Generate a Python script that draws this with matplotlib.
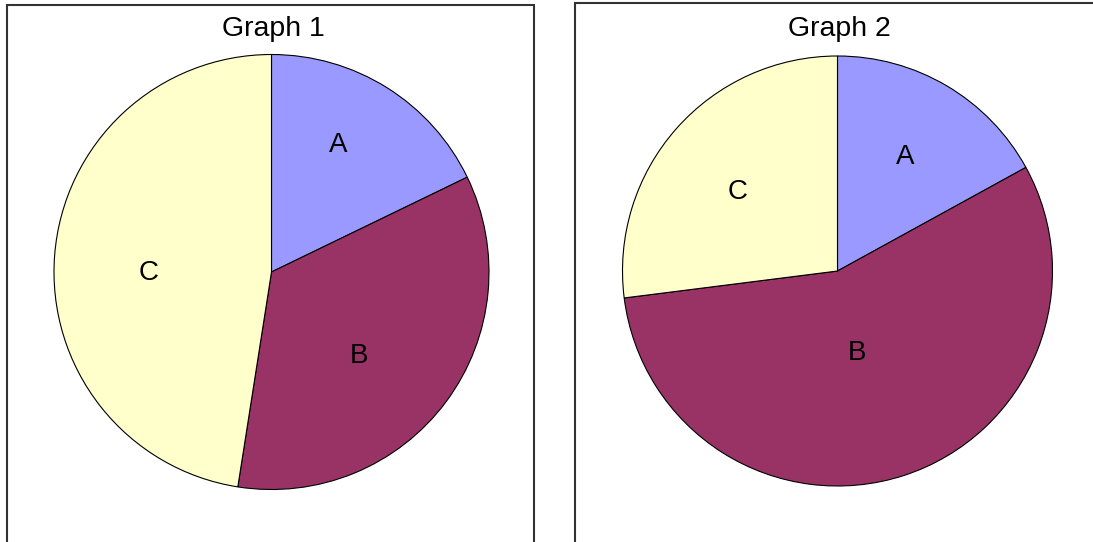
import matplotlib
matplotlib.use('Agg')
import matplotlib.pyplot as plt
from matplotlib.patches import Rectangle

plt.rcParams['font.family'] = ['Liberation Sans', 'DejaVu Sans']

labels = ['A', 'B', 'C']
colors = ['#9999FF', '#993366', '#FFFFCC']
graph1 = [18, 35, 48]
graph2 = [17, 56, 27]
titles = ['Graph 1', 'Graph 2']

W, H = 1093, 542
fig = plt.figure(figsize=(W / 100, H / 100), dpi=100)

# frames around each chart (pixel coords, top-left origin)
for x0, y0, x1, y1 in [(7, 5, 534, 560), (575, 3, 1110, 560)]:
    fig.patches.append(Rectangle((x0 / W, 1 - y1 / H), (x1 - x0) / W, (y1 - y0) / H,
                                 transform=fig.transFigure, fill=False,
                                 edgecolor='#333333', linewidth=1.5))

# centers and radii of the pies in pixels, plus where the labels sit (pixels)
pies = [(271.5, 272, 217.5, graph1, [(338, 145), (359, 356), (149, 273)]),
        (837.5, 271, 215, graph2, [(905, 157), (857, 353), (738, 192)])]
for i, (cx, cy, r, vals, lab_pos) in enumerate(pies):
    ax = fig.add_axes([(cx - r) / W, 1 - (cy + r) / H, 2 * r / W, 2 * r / H])
    wedges, texts = ax.pie(vals, labels=labels, colors=colors, startangle=90,
                           counterclock=False, labeldistance=0.6, radius=1,
                           wedgeprops=dict(edgecolor='black', linewidth=0.8),
                           textprops=dict(fontsize=20))
    for t, (px, py) in zip(texts, lab_pos):
        t.set_position(((px - cx) / r, (cy - py) / r))
        t.set_horizontalalignment('center')
        t.set_verticalalignment('center')
    ax.set_xlim(-1, 1)
    ax.set_ylim(-1, 1)
    ax.set_aspect('auto')
    ax.axis('off')
    fig.text((cx + 2) / W, 1 - 29 / H, titles[i], ha='center', va='center', fontsize=20.5)

fig.savefig('out.png', dpi=100)
